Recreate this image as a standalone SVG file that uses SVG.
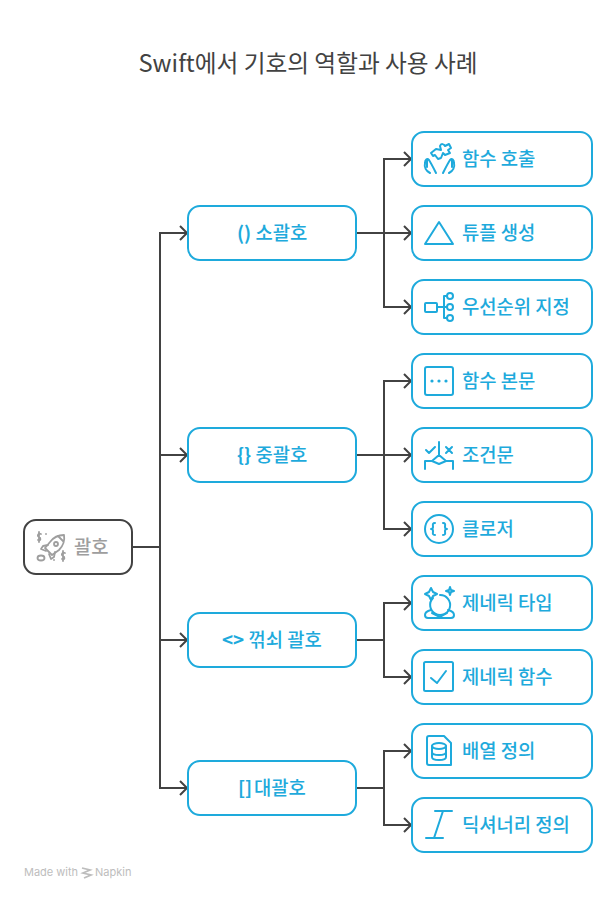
<svg xmlns="http://www.w3.org/2000/svg" width="616" height="900" viewBox="0 0 616 900">
<style>
text{font-family:"Noto Sans CJK KR","Noto Sans",sans-serif;font-weight:500}
.t{font-size:23.7px;fill:#424242;text-anchor:middle;font-weight:400}
.l{font-size:18.8px;fill:#1eaadc;dominant-baseline:central}
.k{font-weight:700}
.b{fill:#fff;stroke:#1eaadc;stroke-width:2}
.i{fill:none;stroke:#1eaadc;stroke-width:2;stroke-linecap:round;stroke-linejoin:round}
.d{fill:#1eaadc;stroke:none}
.g{fill:none;stroke:#9e9e9e;stroke-width:1.8;stroke-linecap:round;stroke-linejoin:round}
.c{fill:none;stroke:#424242;stroke-width:2}
</style>
<defs>
<marker id="a" markerUnits="userSpaceOnUse" markerWidth="12" markerHeight="16" refX="10" refY="8" orient="auto"><path d="M3 1L10 8L3 15" fill="none" stroke="#424242" stroke-width="2"/></marker>
</defs>
<text class="t" x="308" y="72">Swift에서 기호의 역할과 사용 사례</text>
<g id="connectors" class="c">
<path d="M132 547H160"/>
<path d="M160 547V233H187" marker-end="url(#a)"/>
<path d="M160 547V455H187" marker-end="url(#a)"/>
<path d="M160 547V640H187" marker-end="url(#a)"/>
<path d="M160 547V788H187" marker-end="url(#a)"/>
<path d="M356 233H384V159H411" marker-end="url(#a)"/>
<path d="M356 233H411" marker-end="url(#a)"/>
<path d="M384 233V307H411" marker-end="url(#a)"/>
<path d="M356 455H384V381H411" marker-end="url(#a)"/>
<path d="M356 455H411" marker-end="url(#a)"/>
<path d="M384 455V529H411" marker-end="url(#a)"/>
<path d="M356 640H384V603H411" marker-end="url(#a)"/>
<path d="M384 640V677H411" marker-end="url(#a)"/>
<path d="M356 788H384V751H411" marker-end="url(#a)"/>
<path d="M384 788V825H411" marker-end="url(#a)"/>
</g>
<g id="root"><rect x="24" y="520" width="108" height="54" rx="12" fill="#fff" stroke="#424242" stroke-width="2"/>
<g class="g"><path d="M64 535C58 535 53 538 50 542L45 548L52 555L59 550C63 546 65 541 64 535Z"/><circle cx="56" cy="544" r="2"/><path d="M58 536L63 541M48 545L43 546L41 549L46 551M55 552L54 557L51 559L49 554"/><ellipse cx="41" cy="558" rx="3.5" ry="2.5"/><path d="M41 534C38 533 37 536 39 537C41 538 41 541 38 540M39 532V542M65 553C62 552 61 555 63 556C65 557 65 560 62 559M63 551V561M46 534h.01M54 560h.01"/></g>
<text class="l" x="74" y="545" style="fill:#9e9e9e">괄호</text></g>
<g id="n-small"><rect class="b" x="188" y="206" width="168" height="54" rx="12"/><text class="l" x="237" y="231"><tspan class="k">()</tspan> 소괄호</text></g>
<g id="n-curly"><rect class="b" x="188" y="428" width="168" height="54" rx="12"/><text class="l" x="237" y="453"><tspan class="k">{}</tspan> 중괄호</text></g>
<g id="n-angle"><rect class="b" x="188" y="613" width="168" height="54" rx="12"/><text class="l" x="222" y="638"><tspan class="k">&lt;&gt;</tspan> 꺾쇠 괄호</text></g>
<g id="n-square"><rect class="b" x="188" y="761" width="168" height="54" rx="12"/><text class="l" x="238" y="786"><tspan class="k">[]</tspan> <tspan x="254">대괄호</tspan></text></g>
<g id="n1"><rect class="b" x="412" y="132" width="180" height="54" rx="12"/>
<g class="i"><path d="M431 153L436 149L441 150L440 146C441 143 444 144 445 146L449 144L451 148L448 150L450 153L445 155L443 153L441 158L438 159L435 155L433 156Z"/><path d="M430 173C426 171 424 167 425 163C425 160 427 158 429 160C431 163 433 167 436 173M427 161V167M449 173C453 171 455 167 454 163C454 160 452 158 450 160C448 163 446 167 443 173M452 161V167"/></g>
<text class="l" x="462" y="157">함수 호출</text></g>
<g id="n2"><rect class="b" x="412" y="206" width="180" height="54" rx="12"/>
<path class="i" d="M439 222L425 244H453Z"/>
<text class="l" x="462" y="231">튜플 생성</text></g>
<g id="n3"><rect class="b" x="412" y="280" width="180" height="54" rx="12"/>
<g class="i"><rect x="425" y="303" width="12" height="9" rx="1"/><path d="M437 307H447M444 296V318M444 296H447M444 318H447"/><circle cx="450" cy="296" r="3"/><circle cx="450" cy="307" r="3"/><circle cx="450" cy="318" r="3"/></g>
<text class="l" x="462" y="305">우선순위 지정</text></g>
<g id="n4"><rect class="b" x="412" y="354" width="180" height="54" rx="12"/>
<rect class="i" x="425" y="367" width="28" height="28" rx="2"/><circle class="d" cx="432" cy="381" r="1.6"/><circle class="d" cx="439" cy="381" r="1.6"/><circle class="d" cx="446" cy="381" r="1.6"/>
<text class="l" x="462" y="379">함수 본문</text></g>
<g id="n5"><rect class="b" x="412" y="428" width="180" height="54" rx="12"/>
<g class="i"><path d="M439 442V455M439 455L432 461L439 464L446 461Z M432 461H425V469M446 461H453V469M426 450L429 453L435 447M446 447L452 453M452 447L446 453"/></g>
<text class="l" x="462" y="453">조건문</text></g>
<g id="n6"><rect class="b" x="412" y="502" width="180" height="54" rx="12"/>
<g class="i"><circle cx="439" cy="529" r="14"/><path d="M435 523C432 523 433 525 433 527C433 529 431 529 431 529C431 529 433 529 433 531C433 533 432 535 435 535M443 523C446 523 445 525 445 527C445 529 447 529 447 529C447 529 445 529 445 531C445 533 446 535 443 535"/></g>
<text class="l" x="462" y="527">클로저</text></g>
<g id="n7"><rect class="b" x="412" y="576" width="180" height="54" rx="12"/>
<g class="i"><path d="M440 595A10 10 0 1 1 433 598"/><path d="M431 588L433 592L437 594L433 596L431 600L429 596L425 594L429 592ZM450 587L451 590L454 591L451 592L450 595L449 592L446 591L449 590Z"/><path d="M431 610C427 611 425 612 425 615C425 617 426 618 428 618H451C453 618 454 617 454 615C454 612 452 611 448 610M432 613L440 617L447 613"/></g>
<text class="l" x="462" y="601">제네릭 타입</text></g>
<g id="n8"><rect class="b" x="412" y="650" width="180" height="54" rx="12"/>
<g class="i"><rect x="424" y="662" width="29" height="29" rx="1.5"/><path d="M431 678L437 683L446 671"/></g>
<text class="l" x="462" y="675">제네릭 함수</text></g>
<g id="n9"><rect class="b" x="412" y="724" width="180" height="54" rx="12"/>
<g class="i"><path d="M429 736H444L451 743V765H429C427 765 427 764 427 763V738C427 737 427 736 429 736Z"/><ellipse cx="439" cy="746" rx="7" ry="3"/><path d="M432 746V757C432 759 435 760 439 760C443 760 446 759 446 757V746M432 752C432 754 435 755 439 755C443 755 446 754 446 752"/></g>
<text class="l" x="462" y="749">배열 정의</text></g>
<g id="n10"><rect class="b" x="412" y="798" width="180" height="54" rx="12"/>
<g class="i"><path d="M435 811H452M426 838H443M443 811L434 838"/></g>
<text class="l" x="462" y="823">딕셔너리 정의</text></g>
<g id="footer"><text x="24" y="876" font-size="11" fill="#bdbdbd" style="font-family:'Inter','Noto Sans',sans-serif;font-weight:400">Made with</text>
<path d="M82 868L90 870L83 873L91 875L84 878" fill="none" stroke="#bdbdbd" stroke-width="1.8"/>
<text x="95" y="876" font-size="11" fill="#bdbdbd" style="font-family:'Inter','Noto Sans',sans-serif;font-weight:400">Napkin</text></g>
</svg>
